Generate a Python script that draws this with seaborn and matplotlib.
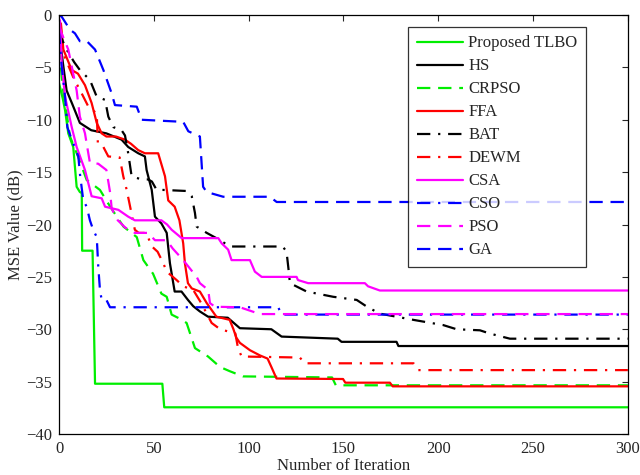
import numpy as np
import pandas as pd
import matplotlib
matplotlib.use('Agg')
import matplotlib.pyplot as plt
import seaborn as sns

sns.set_style('white')
plt.rcParams['font.family'] = ['Liberation Serif', 'DejaVu Serif']
plt.rcParams['mathtext.fontset'] = 'stix'

# convergence curves (iteration, MSE in dB)
tlbo_x = [0, 2, 3.2, 4.9, 7.5, 9.3, 11, 12, 12.2, 17.7, 19, 54.5, 55.5, 300]
tlbo_y = [-6.5, -8.0, -9.1, -11.3, -12.6, -16.4, -16.9, -17.0, -22.5, -22.5, -35.2, -35.2, -37.45, -37.45]

hs_x = [0, 2, 4, 7, 11, 17, 25, 33, 36.5, 41.8, 45.3, 46.2, 48.9, 50.6, 54, 56.8, 58.5, 61, 64.6, 68, 70.8,
        74.3, 78.6, 89, 95.4, 112, 117.4, 147, 149, 178, 179, 300]
hs_y = [-1.5, -4.5, -7.2, -8.5, -10.3, -11.0, -11.3, -11.9, -12.6, -13.2, -13.5, -14.8, -16.7, -19.25, -19.9,
        -20.8, -23.7, -26.4, -26.4, -27.2, -27.8, -28.3, -28.8, -28.9, -29.9, -30.0, -30.7, -30.9, -31.2, -31.2,
        -31.6, -31.6]

crpso_x = [0, 2, 5.8, 10, 14.6, 21.6, 27, 34, 41, 44.5, 49.6, 54, 56.8, 59.4, 63.8, 67.3, 71.7, 78.6, 84.9,
           90, 97, 144, 146, 300]
crpso_y = [-3.0, -7.0, -11.6, -13.5, -15.75, -16.7, -18.3, -20.2, -21.2, -23.4, -24.7, -26.6, -26.9, -28.6,
           -29.0, -29.4, -31.8, -32.6, -33.6, -34.0, -34.5, -34.6, -35.35, -35.35]

ffa_x = [0, 1, 2.3, 6.7, 10, 13.7, 17.2, 19.9, 22.5, 25, 30, 34.8, 38, 41.8, 45.3, 52.3, 55.9, 57.6, 61, 63.5,
         65.5, 66.4, 68, 70, 74.3, 77.9, 83, 90, 92, 93.5, 95.4, 100.7, 106, 110, 112, 114.7, 149.8, 151, 174.5,
         176, 300]
ffa_y = [-1.2, -0.8, -3.3, -5.25, -5.6, -6.7, -8.4, -10.3, -11.3, -11.6, -11.6, -11.9, -12.3, -12.9, -13.2,
         -13.2, -15.4, -17.7, -18.3, -19.6, -21.8, -23.7, -25.6, -26.1, -26.4, -27.5, -28.8, -29.1, -30.0, -30.8,
         -31.3, -32.0, -32.5, -32.8, -33.6, -34.7, -34.75, -35.1, -35.1, -35.45, -35.45]

bat_x = [0, 2, 4, 8, 11, 16.3, 19.9, 24.3, 26, 28.6, 33, 34.8, 36.5, 38.3, 43.6, 47, 49, 51.5, 55, 67.3, 70,
         71.7, 72.6, 77.9, 85, 90, 118, 120, 121, 121.8, 130.6, 144.6, 157, 162, 169, 186.8, 202.6, 209.7, 222,
         227, 237.8, 300]
bat_y = [-1.5, -2.5, -3.3, -4.5, -5.25, -6.2, -7.8, -8.1, -9.7, -10.7, -11.0, -11.5, -13.2, -15.4, -15.7,
         -15.7, -15.9, -16.7, -16.7, -16.8, -17.3, -18.9, -20.2, -20.8, -21.5, -22.1, -22.1, -22.6, -24.2, -25.6,
         -26.4, -26.9, -27.2, -27.8, -28.5, -29.1, -29.6, -30.0, -30.1, -30.4, -30.9, -30.9]

dewm_x = [0, 3, 7.4, 12, 15.5, 19.9, 20.5, 23.4, 26, 32, 33.9, 35.7, 38.3, 40, 42, 46, 49, 52, 55, 56.8, 62,
          65.5, 70.8, 75, 80.5, 85, 93, 94.4, 96.3, 127, 129.7, 187, 189.4, 300]
dewm_y = [-2.0, -4.0, -5.9, -7.5, -8.75, -9.4, -12.3, -12.6, -13.5, -13.6, -15.4, -16.7, -19.0, -20.5, -20.8,
          -20.8, -22.1, -22.6, -23.7, -24.5, -25.3, -25.9, -26.25, -27.5, -29.4, -30.0, -30.4, -31.8, -32.6,
          -32.7, -33.25, -33.25, -33.9, -33.9]

csa_x = [0, 0.5, 1.4, 3.2, 6.7, 9.3, 13.7, 17.2, 22.5, 24.3, 31.3, 36.5, 40, 54, 57, 59.4, 64.7, 84, 85.8,
         89.2, 91, 100.7, 103.3, 106.9, 125.3, 126, 131.4, 161.3, 163, 169.2, 300]
csa_y = [-0.7, -0.5, -4.6, -7.8, -10.7, -12.6, -14.8, -17.3, -17.5, -18.3, -18.6, -19.25, -19.6, -19.6, -20.0,
         -20.5, -21.3, -21.3, -21.8, -22.4, -23.4, -23.4, -24.5, -25.0, -25.0, -25.3, -25.6, -25.6, -25.9, -26.3,
         -26.3]

cso_x = [0, 1.4, 3.2, 4.4, 6.7, 10.2, 11, 12.8, 14.6, 16.3, 18, 19.9, 20.7, 21.6, 22.5, 25, 26.9, 115.6,
         117.4, 300]
cso_y = [-1.5, -4.9, -7.8, -10.7, -11.9, -13.5, -15.1, -17.7, -18.3, -19.6, -20.5, -21.2, -24.0, -26.25, -27.2,
         -27.2, -27.9, -27.9, -28.6, -28.6]

pso_x = [0, 1.4, 4.9, 9.3, 11, 13.7, 14.6, 16.3, 20.7, 25, 27, 27.8, 31, 35, 40, 47, 50.6, 56.8, 60, 65.5,
         72.6, 74.3, 78.7, 79.6, 82.2, 95.4, 106, 300]
pso_y = [-1.0, -1.75, -3.3, -7.2, -9.7, -11.3, -12.3, -14.1, -14.2, -14.8, -17.0, -18.5, -19.6, -20.3, -20.8,
         -20.8, -21.5, -21.5, -22.3, -23.4, -25.0, -25.6, -26.25, -27.5, -27.85, -27.9, -28.55, -28.55]

ga_x = [0, 1.4, 5.8, 8.4, 11, 14.7, 19, 23.4, 27.8, 29.5, 41, 43.6, 65.5, 68.2, 74.3, 76, 77.9, 86.6, 111.2,
        114.8, 300]
ga_y = [0.0, -0.16, -1.4, -1.75, -2.5, -2.5, -3.3, -5.25, -7.5, -8.6, -8.75, -10.0, -10.2, -11.1, -11.6, -16.4,
        -16.9, -17.35, -17.35, -17.85, -17.85]

names = ['Proposed TLBO', 'HS', 'CRPSO', 'FFA', 'BAT', 'DEWM', 'CSA', 'CSO', 'PSO', 'GA']
xs = [tlbo_x, hs_x, crpso_x, ffa_x, bat_x, dewm_x, csa_x, cso_x, pso_x, ga_x]
ys = [tlbo_y, hs_y, crpso_y, ffa_y, bat_y, dewm_y, csa_y, cso_y, pso_y, ga_y]

colors = ['#00ee00', 'black', '#00ee00', '#ff0000', 'black', '#ff0000', '#ff00ff', '#0000ff', '#ff00ff', '#0000ff']
dash = (0, (6, 3.5))
dashdot = (0, (6, 3.5, 1, 3.5))
styles = ['-', '-', dash, '-', dashdot, dashdot, '-', dashdot, dash, dash]

fig = plt.figure(figsize=(6.4, 4.75), dpi=100)
ax = fig.add_axes([0.0922, 0.0863, 0.8888, 0.8821])

for name, x, y, c, ls in zip(names, xs, ys, colors, styles):
    df = pd.DataFrame({'iter': x, 'mse': y})
    sns.lineplot(data=df, x='iter', y='mse', ax=ax, color=c, linestyle=ls, lw=1.6,
                 sort=False, estimator=None, label=name)

ax.set_xlim(0, 300)
ax.set_ylim(-40, 0)
ax.set_xticks(np.arange(0, 301, 50))
ax.set_yticks(np.arange(-40, 1, 5))
ax.set_yticklabels(['\u2212%d' % abs(v) if v < 0 else '%d' % v for v in np.arange(-40, 1, 5)])
ax.tick_params(direction='in', length=4, width=0.8, top=True, right=True, labelsize=12, pad=5)
for s in ax.spines.values():
    s.set_color('black')
    s.set_linewidth(0.9)
ax.set_xlabel('Number of Iteration', fontsize=12, labelpad=1)
ax.set_ylabel('MSE Value (dB)', fontsize=12, labelpad=2)

leg = ax.legend(loc='upper right', bbox_to_anchor=(0.926, 0.971), fontsize=12, frameon=True,
                fancybox=False, edgecolor='black', handlelength=2.8, handletextpad=0.3,
                labelspacing=0.42, borderpad=0.5, borderaxespad=0)
leg.get_frame().set_linewidth(0.9)

fig.savefig('out.png', dpi=100)
